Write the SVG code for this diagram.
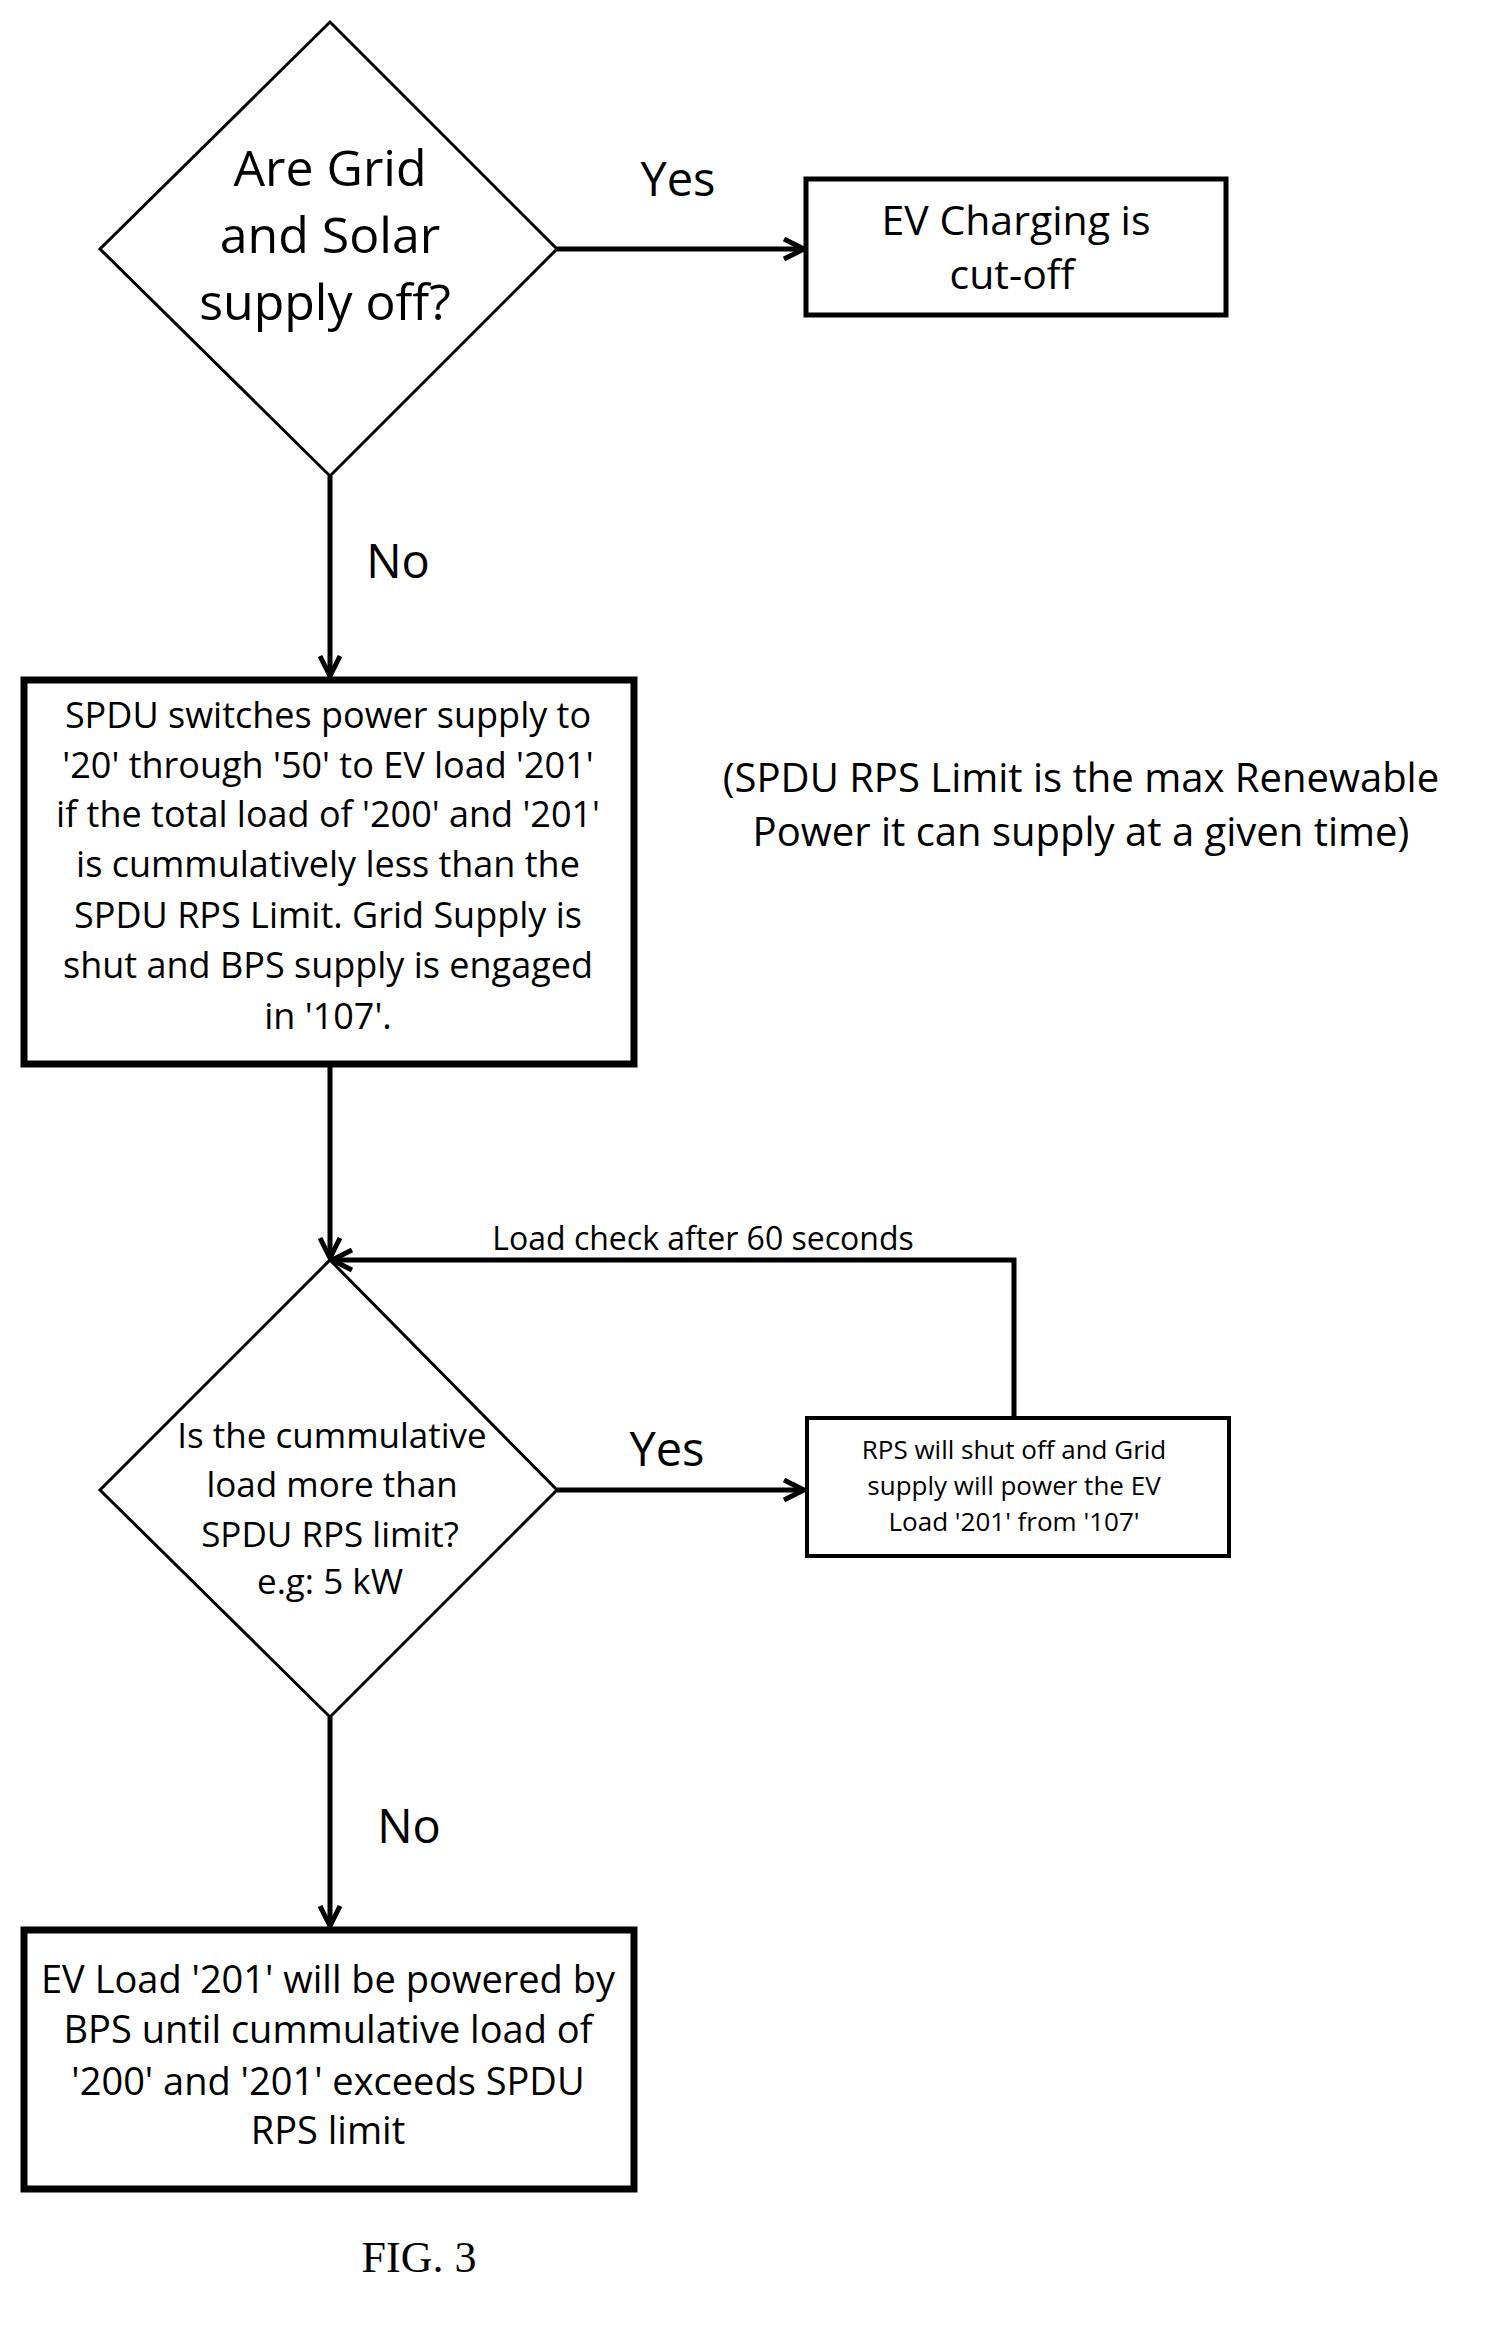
<svg xmlns="http://www.w3.org/2000/svg" width="1500" height="2332" viewBox="0 0 1500 2332">
<style>
text{font-family:"Open Sans","Liberation Sans",sans-serif;fill:#000;text-anchor:middle;dominant-baseline:middle}
.s{fill:#fff;stroke:#000}
.c{fill:none;stroke:#000;stroke-width:5}
</style>
<defs><marker id="a" viewBox="0 0 10 10" refX="9" refY="5" markerWidth="5" markerHeight="5" orient="auto"><path d="M1,1 L9,5 L1,9" fill="none" stroke="#000" stroke-width="2"/></marker></defs>
<rect width="1500" height="2332" fill="#fff"/>
<g id="connectors">
<line class="c" x1="557" y1="249" x2="804" y2="249" marker-end="url(#a)"/>
<line class="c" x1="330" y1="476" x2="330" y2="676" marker-end="url(#a)"/>
<line class="c" x1="330" y1="1065" x2="330" y2="1258" marker-end="url(#a)"/>
<line class="c" x1="557" y1="1490" x2="804" y2="1490" marker-end="url(#a)"/>
<polyline class="c" points="1014,1418 1014,1260 332,1260" marker-end="url(#a)"/>
<line class="c" x1="330" y1="1717" x2="330" y2="1926" marker-end="url(#a)"/>
<text x="678" y="183" font-size="47">Yes</text>
<text x="398" y="565" font-size="47">No</text>
<text x="667" y="1453" font-size="47">Yes</text>
<text x="409" y="1830" font-size="47">No</text>
<text x="703" y="1241" font-size="32">Load check after 60 seconds</text>
</g>
<g id="d1"><polygon class="s" stroke-width="3" points="330,22 557,249 330,476 100,249"/>
<text x="330" y="173" font-size="50">Are Grid</text><text x="330" y="240" font-size="50">and Solar</text><text x="325" y="307" font-size="50">supply off?</text></g>
<g id="b1"><rect class="s" stroke-width="5" x="806" y="179" width="420" height="136"/>
<text x="1016" y="224" font-size="41">EV Charging is</text><text x="1012" y="278" font-size="41">cut-off</text></g>
<g id="b2"><rect class="s" stroke-width="7" x="24" y="680" width="610" height="384"/>
<g font-size="36"><text x="328" y="718">SPDU switches power supply to</text><text x="328" y="768">'20' through '50' to EV load '201'</text><text x="328" y="817">if the total load of '200' and '201'</text><text x="328" y="867">is cummulatively less than the</text><text x="328" y="918">SPDU RPS Limit. Grid Supply is</text><text x="328" y="968">shut and BPS supply is engaged</text><text x="328" y="1019">in '107'.</text></g></g>
<g id="note"><text x="1081" y="781" font-size="40">(SPDU RPS Limit is the max Renewable</text><text x="1081" y="835" font-size="40">Power it can supply at a given time)</text></g>
<g id="d2"><polygon class="s" stroke-width="3" points="330,1260 557,1490 330,1717 100,1490"/>
<g font-size="35"><text x="332" y="1439">Is the cummulative</text><text x="332" y="1488">load more than</text><text x="330" y="1538">SPDU RPS limit?</text><text x="330" y="1585">e.g: 5 kW</text></g></g>
<g id="b3"><rect class="s" stroke-width="4" x="807" y="1418" width="422" height="138"/>
<g font-size="26"><text x="1014" y="1452">RPS will shut off and Grid</text><text x="1014" y="1488">supply will power the EV</text><text x="1014" y="1524">Load '201' from '107'</text></g></g>
<g id="b4"><rect class="s" stroke-width="7" x="24" y="1930" width="610" height="259"/>
<g font-size="38"><text x="328" y="1983">EV Load '201' will be powered by</text><text x="328" y="2033">BPS until cummulative load of</text><text x="328" y="2085">'200' and '201' exceeds SPDU</text><text x="328" y="2134">RPS limit</text></g></g>
<text x="419" y="2262" font-size="44" style="font-family:'Liberation Serif',serif">FIG. 3</text>
</svg>
